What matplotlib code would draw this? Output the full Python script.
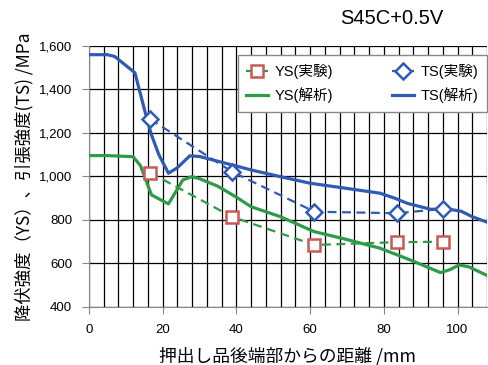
import matplotlib
matplotlib.use("Agg")
import matplotlib.pyplot as plt
from matplotlib.ticker import MultipleLocator, FuncFormatter

plt.rcParams['font.family'] = ['Liberation Sans', 'Noto Sans CJK JP', 'DejaVu Sans']

# experimental points
exp_x = [16.6, 38.8, 61.2, 83.6, 96.0]
ys_exp = [1018, 815, 685, 698, 700]
ts_exp = [1264, 1022, 838, 831, 851]

# analysis curves
ts_ana_x = [0, 5, 7, 12.5, 15.7, 17, 19, 21.6, 24, 27.4, 30, 35, 40, 44, 52, 60, 70, 79, 83, 86.3, 92.7, 96, 99, 101, 104, 108]
ts_ana_y = [1560, 1560, 1552, 1477, 1268, 1191, 1100, 1015, 1040, 1095, 1092, 1070, 1048, 1030, 999, 969, 945, 923, 900, 877, 849, 850, 846, 840, 815, 790]
ys_ana_x = [0, 5, 12, 14, 17, 21.6, 25.5, 27.9, 30, 35, 40, 44, 52, 61, 70, 79, 87.2, 95.4, 98, 100.4, 103, 108]
ys_ana_y = [1096, 1096, 1091, 1050, 915, 874, 984, 999, 990, 955, 905, 861, 815, 747, 710, 670, 616, 558, 572, 593, 585, 545]

blue = '#2f5bb5'
green = '#2e9b48'
red = '#c85a55'

fig = plt.figure(figsize=(4.88, 3.65), dpi=100)
ax = fig.add_axes([0.182, 0.159, 0.816, 0.715])

l1, = ax.plot(exp_x, ys_exp, color=green, lw=1.6, ls=(0, (4, 2.5)), marker='s', ms=9,
              mfc='white', mec=red, mew=1.8, label='YS(実験)', zorder=4)
l2, = ax.plot(exp_x, ts_exp, color=blue, lw=1.6, ls=(0, (4, 2.5)), marker='D', ms=8,
              mfc='white', mec=blue, mew=1.8, label='TS(実験)', zorder=4)
l3, = ax.plot(ys_ana_x, ys_ana_y, color=green, lw=2.3, label='YS(解析)', zorder=3)
l4, = ax.plot(ts_ana_x, ts_ana_y, color=blue, lw=2.3, label='TS(解析)', zorder=3)

ax.set_xlim(0, 108)
ax.set_ylim(400, 1600)
ax.xaxis.set_major_locator(MultipleLocator(20))
ax.xaxis.set_minor_locator(MultipleLocator(4))
ax.yaxis.set_major_locator(MultipleLocator(200))
ax.yaxis.set_major_formatter(FuncFormatter(lambda v, p: f'{int(v):,}'))
ax.grid(True, which='major', axis='y', color='black', lw=0.9)
ax.grid(True, which='minor', axis='x', color='black', lw=0.9)
ax.grid(True, which='major', axis='x', color='black', lw=0.9)
ax.tick_params(which='major', length=5, color='#888888', labelsize=9.5, pad=7)
ax.tick_params(which='minor', length=0)
for s in ['top', 'right']:
    ax.spines[s].set_visible(False)
ax.spines['left'].set_color('#888888')
ax.spines['bottom'].set_color('#888888')

ax.set_xlabel('押出し品後端部からの距離 /mm', fontsize=12.8, labelpad=8,
              family=['Noto Sans CJK JP', 'DejaVu Sans'])
ax.set_ylabel('降伏強度（YS）、引張強度(TS) /MPa', fontsize=12.5, labelpad=4,
              family=['Noto Sans CJK JP', 'DejaVu Sans'])

leg = ax.legend([l1, l3, l2, l4], ['YS(実験)', 'YS(解析)', 'TS(実験)', 'TS(解析)'],
                loc='upper left', bbox_to_anchor=(0.374, 0.966), ncol=2, numpoints=1,
                frameon=True, fancybox=False, edgecolor='#888888', framealpha=1,
                handlelength=1.5, handletextpad=0.4, columnspacing=4.1,
                borderpad=0.6, labelspacing=0.6, borderaxespad=0,
                prop={'family': ['Liberation Sans', 'Noto Sans CJK JP'], 'size': 10.5})
leg.set_zorder(5)

fig.text(0.908, 0.948, 'S45C+0.5V', ha='right', va='center', fontsize=14.5)

fig.savefig('out.png', dpi=100)
